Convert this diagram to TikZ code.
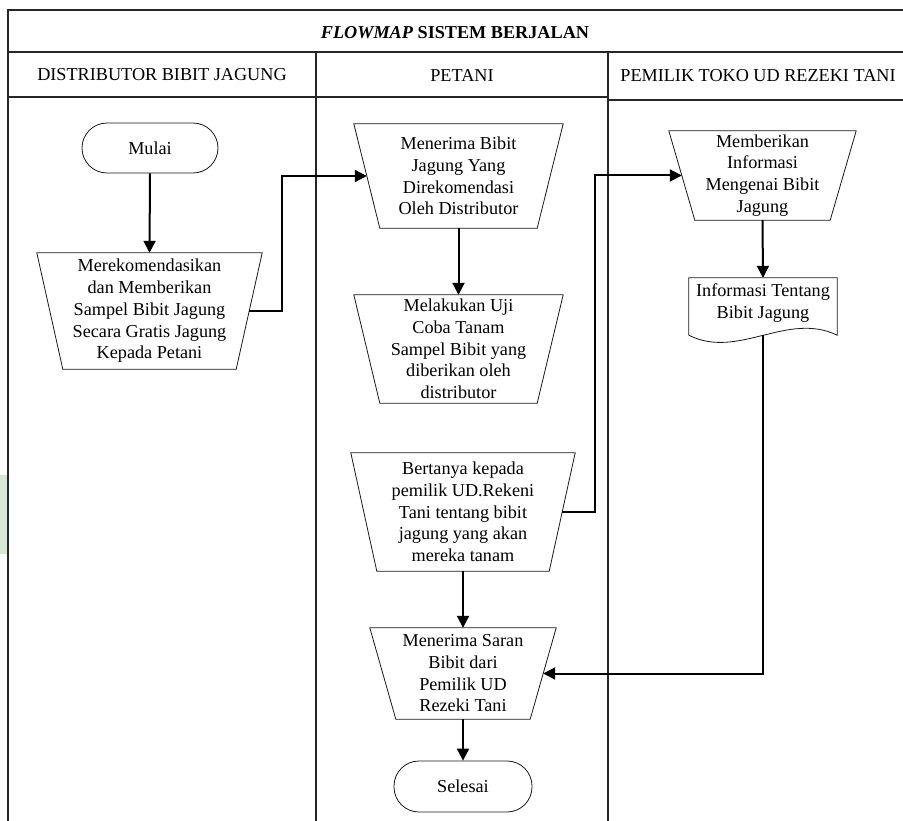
\documentclass[tikz,border=0pt]{standalone}
\usepackage{fontspec}
\setmainfont{Liberation Serif}
\usetikzlibrary{arrows.meta}
\definecolor{margingreen}{RGB}{216,230,212}
\begin{document}
\begin{tikzpicture}[x=1pt,y=-1pt,
  lane/.style={line width=1.1pt, draw=black!85},
  shapeline/.style={line width=0.8pt, draw=black!90},
  link/.style={line width=2pt, line join=miter},
  flow/.style={link, -{Triangle[length=12pt,width=12pt]}},
  txt/.style={font=\fontsize{18.2}{21.7}\selectfont},
  box/.style={txt, draw=none, inner sep=0pt, align=center},
  terminal/.style={box, shapeline, draw, rounded corners=25pt}
]
\useasboundingbox (0,0) rectangle (903,821);
\fill[margingreen] (0,475) rectangle (8,554);

% swimlane frame
\draw[lane] (903,10) -- (8,10) -- (8,821);
\draw[lane] (8,52) -- (903,52);
\draw[lane] (8,97) -- (608,97);
\draw[lane] (608,100) -- (903,100);
\draw[lane] (316,52) -- (316,821);
\draw[lane] (608,52) -- (608,821);

\node[txt] (title) at (455,33) {\textbf{\textit{FLOWMAP}} \textbf{SISTEM BERJALAN}};
\node[txt] (lane1) at (162,75) {DISTRIBUTOR BIBIT JAGUNG};
\node[txt] (lane2) at (462,75) {PETANI};
\node[txt] (lane3) at (758,76) {PEMILIK TOKO UD REZEKI TANI};

% steps
\node[terminal, minimum width=136pt, minimum height=50pt] (mulai) at (150,148) {Mulai};
\node[box, minimum width=225pt, minimum height=116pt] (dist) at (149.5,311)
  {Merekomendasikan\\dan Memberikan\\Sampel Bibit Jagung\\Secara Gratis Jagung\\Kepada Petani};
\node[box, minimum width=209pt, minimum height=104pt] (terima) at (458.5,176)
  {Menerima Bibit\\Jagung Yang\\Direkomendasi\\Oleh Distributor};
\node[box, minimum width=209pt, minimum height=108pt] (uji) at (458.5,349)
  {Melakukan Uji\\Coba Tanam\\Sampel Bibit yang\\diberikan oleh\\distributor};
\node[box, minimum width=224pt, minimum height=118pt] (tanya) at (463,512)
  {Bertanya kepada\\pemilik UD.Rekeni\\Tani tentang bibit\\jagung yang akan\\mereka tanam};
\node[box, minimum width=186pt, minimum height=91pt] (saran) at (463,673.5)
  {Menerima Saran\\Bibit dari\\Pemilik UD\\Rezeki Tani};
\node[terminal, minimum width=138pt, minimum height=51pt] (selesai) at (463,786.5) {Selesai};
\node[box, minimum width=187pt, minimum height=89pt] (info) at (762.5,175.5)
  {Memberikan\\Informasi\\Mengenai Bibit\\Jagung};
\node[box, minimum width=148pt, minimum height=57pt] (doc) at (763,306.5) {};
\node[box] (doctext) at (763,303) {Informasi Tentang\\Bibit Jagung};

% manual operation outlines (wide top, narrow bottom)
\foreach \n in {dist,terima,uji,tanya,saran,info}
  \draw[shapeline] (\n.north west) -- (\n.north east)
    -- ([xshift=-26pt]\n.south east) -- ([xshift=26pt]\n.south west) -- cycle;

% document outline with wavy bottom
\draw[shapeline] (doc.south west) -- (doc.north west) -- (doc.north east) -- (doc.south east)
  .. controls (787,311) and (738,360) .. (doc.south west);

% connectors
\draw[flow] (mulai.south) -- (dist.north);
\draw[flow] ([xshift=-13pt]dist.east) -- ++(32.5,0) |- ([xshift=13pt]terima.west);
\draw[flow] (terima.south) -- (uji.north);
\draw[flow] ([xshift=-13pt]tanya.east) -- ++(32.5,0) |- ([xshift=13pt]info.west);
\draw[flow] (info.south) -- (doc.north);
\draw[flow] (doc.south) |- ([xshift=-13pt]saran.east);
\draw[flow] (tanya.south) -- (saran.north);
\draw[flow] (saran.south) -- (selesai.north);
\end{tikzpicture}
\end{document}
